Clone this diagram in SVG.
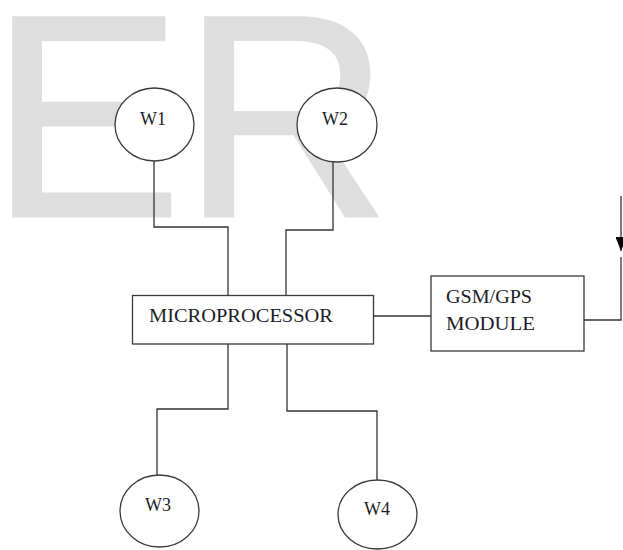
<svg xmlns="http://www.w3.org/2000/svg" width="623" height="550" viewBox="0 0 623 550">
  <defs>
    <style>
      .wm { font-family: "Liberation Sans", Arial, sans-serif; font-size: 288px; fill: #dedede; stroke: #dedede; stroke-width: 3; }
      .node { fill: #ffffff; stroke: #3a3a3a; stroke-width: 1.3; }
      .lbl { font-family: "Liberation Serif", "DejaVu Serif", serif; font-size: 18px; fill: #1c1c28; }
      .conn { fill: none; stroke: #333333; stroke-width: 1.3; }
    </style>
    <marker id="arrow" markerWidth="15" markerHeight="11" refX="14" refY="5.5" orient="auto" markerUnits="userSpaceOnUse" viewBox="0 0 15 11">
      <path d="M0,0 L14,5.5 L0,11 Z" fill="#000"/>
    </marker>
  </defs>
  <rect x="0" y="0" width="623" height="550" fill="#ffffff"/>
  <g id="watermark">
    <text class="wm" x="-10" y="216">ER</text>
  </g>
  <g id="connectors">
    <polyline class="conn" points="154,161 154,227 228,227 228,295"/>
    <polyline class="conn" points="333,162 333,230 286,230 286,295"/>
    <polyline class="conn" points="228,344 228,409 157,409 157,475"/>
    <polyline class="conn" points="287,344 287,411 377,411 377,480"/>
    <line class="conn" x1="373" y1="316" x2="431" y2="316"/>
    <polyline class="conn" points="584,320 621,320 621,257"/>
    <line class="conn" x1="621" y1="196" x2="621" y2="251" marker-end="url(#arrow)"/>
  </g>
  <g id="W1">
    <ellipse class="node" cx="154.5" cy="124.5" rx="39.5" ry="36.5"/>
    <text class="lbl" x="153" y="124.5" text-anchor="middle">W1</text>
  </g>
  <g id="W2">
    <ellipse class="node" cx="337" cy="125" rx="40" ry="37"/>
    <text class="lbl" x="335" y="125" text-anchor="middle">W2</text>
  </g>
  <g id="microprocessor">
    <rect class="node" x="132.5" y="295.5" width="241" height="48.5"/>
    <text class="lbl" x="149" y="322" textLength="184" lengthAdjust="spacingAndGlyphs">MICROPROCESSOR</text>
  </g>
  <g id="gsm_gps">
    <rect class="node" x="431" y="276" width="153" height="75"/>
    <text class="lbl" x="446" y="303" textLength="86" lengthAdjust="spacingAndGlyphs">GSM/GPS</text>
    <text class="lbl" x="446" y="330" textLength="89" lengthAdjust="spacingAndGlyphs">MODULE</text>
  </g>
  <g id="W3">
    <ellipse class="node" cx="159.5" cy="511" rx="39.5" ry="36"/>
    <text class="lbl" x="158" y="511" text-anchor="middle">W3</text>
  </g>
  <g id="W4">
    <ellipse class="node" cx="377.5" cy="514.5" rx="39.5" ry="34.5"/>
    <text class="lbl" x="377" y="515" text-anchor="middle">W4</text>
  </g>
</svg>
